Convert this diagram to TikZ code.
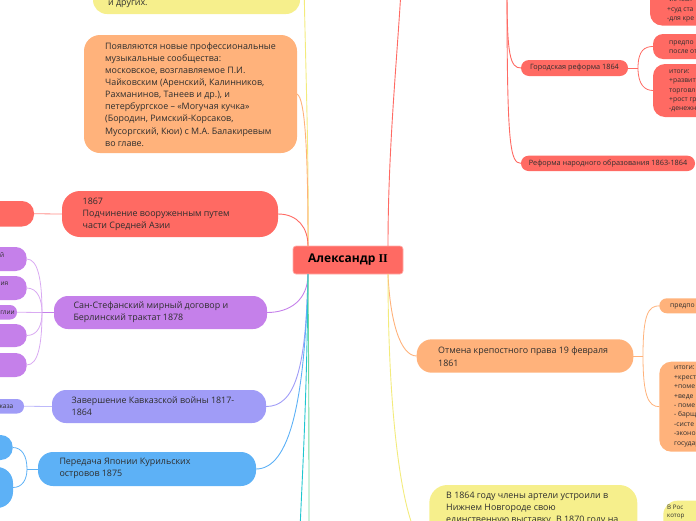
\documentclass[tikz,border=0pt]{standalone}
\usepackage{fontspec}
\setmainfont{Open Sans}
\newfontfamily\romanII{Liberation Serif}
\usetikzlibrary{calc}
\definecolor{cred}{HTML}{FF6A63}
\definecolor{credl}{HTML}{FF8E89}
\definecolor{corange}{HTML}{FFB27B}
\definecolor{cyellow}{HTML}{F6EF8C}
\definecolor{cyline}{HTML}{F3EB7C}
\definecolor{cpurple}{HTML}{C580EA}
\definecolor{cpurplel}{HTML}{D9AAF2}
\definecolor{clav}{HTML}{A09CF7}
\definecolor{clavl}{HTML}{BDB9FA}
\definecolor{cblue}{HTML}{5DB1F6}
\definecolor{ccyan}{HTML}{1EC6CF}
\definecolor{cgreen}{HTML}{6FD79C}
\definecolor{ctext}{HTML}{2E2E2E}
\begin{document}
\begin{tikzpicture}[x=1pt,y=-1pt,
  shp/.style={inner sep=0pt, outer sep=0pt, rounded corners=#1},
  tA/.style={inner sep=0pt, align=left, text=ctext, font=\fontsize{8.9}{12.1}\selectfont},
  tS/.style={inner sep=0pt, align=left, text=ctext, font=\fontsize{6.8}{9.4}\selectfont},
  tX/.style={inner sep=0pt, align=left, text=ctext, font=\fontsize{6.5}{8.5}\selectfont},
  tM/.style={inner sep=0pt, text=ctext, font=\fontsize{7.3}{9}\selectfont},
  ln/.style={line width=0.9pt},
  lnc/.style={line width=0.8pt},
]
\useasboundingbox (0,0) rectangle (696,520);
\clip (0,0) rectangle (696,520);

% ---------- shapes ----------
\node[shp=14, fill=cyellow, minimum width=207, minimum height=64] (ytop) at (196.5,-18) {};
\node[shp=16, fill=corange, minimum width=213, minimum height=118] (music) at (190.5,94) {};
\node[shp=18, fill=cred, minimum width=216, minimum height=46] (r1867) at (170,214) {};
\node[shp=12, fill=cred, minimum width=59, minimum height=25.5] (rl) at (4.5,213.75) {};
\node[shp=14, fill=cpurple, minimum width=213, minimum height=33] (peace) at (160.5,312.5) {};
\node[shp=11, fill=cpurple, minimum width=56.7, minimum height=24] (p1) at (-1.65,259) {};
\node[shp=11, fill=cpurple, minimum width=56.7, minimum height=24] (p2) at (-1.65,288) {};
\node[shp=7, fill=cpurple, minimum width=47, minimum height=14.5] (p3) at (-6.5,312.25) {};
\node[shp=11, fill=cpurple, minimum width=56.7, minimum height=23] (p4) at (-1.65,335.5) {};
\node[shp=11, fill=cpurple, minimum width=56.7, minimum height=24] (p5) at (-1.65,365) {};
\node[shp=14, fill=clav, minimum width=214, minimum height=33] (cauc) at (159,406.5) {};
\node[shp=7, fill=clav, minimum width=54, minimum height=14.5] (cl) at (-3,406.25) {};
\node[shp=15, fill=cblue, minimum width=218, minimum height=34] (kuril) at (147,469) {};
\node[shp=12, fill=cblue, minimum width=42.7, minimum height=25] (b1) at (-8.65,447.5) {};
\node[shp=16, fill=cblue, minimum width=43, minimum height=41] (b2) at (-8.5,487.5) {};

\node[shp=3, fill=cred, draw=cred!55!white, line width=0.7pt, minimum width=110, minimum height=28,
      text=black, font=\fontsize{12}{13}\selectfont\bfseries] (cen) at (348,260) {Александр {\romanII II}};

\node[shp=12, fill=cred, minimum width=80, minimum height=65.5] (gtop) at (690,-7.25) {};
\node[shp=8, fill=cred, minimum width=107, minimum height=16, tM] (gor) at (574.5,68) {Городская реформа 1864};
\node[shp=10, fill=cred, minimum width=77, minimum height=25] (g1) at (691.5,46.5) {};
\node[shp=12, fill=cred, minimum width=77, minimum height=53] (g2) at (691.5,90.5) {};
\node[shp=7.5, fill=cred, minimum width=174, minimum height=15.3, tM] (edu) at (608,163.35) {Реформа народного образования 1863-1864};

\node[shp=15, fill=corange, minimum width=216.6, minimum height=33.4] (serf) at (525,356) {};
\node[shp=7.5, fill=corange, minimum width=70.7, minimum height=15] (s1) at (694.65,305.8) {};
\node[shp=12, fill=corange, minimum width=70.7, minimum height=90] (s2) at (694.65,406.7) {};

\node[shp=18, fill=cyellow, minimum width=208, minimum height=126] (yb) at (533.3,548) {};
\node[shp=14, fill=cyellow, minimum width=66.7, minimum height=59.3] (ybr) at (696.65,530.35) {};

% ---------- texts ----------
\node[tA, anchor=west] (ytopT) at (108,4.3) {и других.};
\node[tA, anchor=west] (musicT) at (105,94.4) {Появляются новые профессиональные\\музыкальные сообщества:\\московское, возглавляемое П.И.\\Чайковским (Аренский, Калинников,\\Рахманинов, Танеев и др.), и\\петербургское – «Могучая кучка»\\(Бородин, Римский-Корсаков,\\Мусоргский, Кюи) с М.А. Балакиревым\\во главе.};
\node[tA, anchor=west] (r1867T) at (82.5,214.7) {1867\\Подчинение вооруженным путем\\части Средней Азии};
\node[tA, anchor=west] (peaceT) at (73.3,312.2) {Сан-Стефанский мирный договор и\\Берлинский трактат 1878};
\node[tA, anchor=west] (caucT) at (71.5,406.3) {Завершение Кавказской войны 1817-\\1864};
\node[tA, anchor=west] (kurilT) at (59.3,468.4) {Передача Японии Курильских\\островов 1875};
\node[tA, anchor=west] (serfT) at (438,356.7) {Отмена крепостного права 19 февраля\\1861};
\node[tA, anchor=west] (ybT) at (446,508.3) {В 1864 году члены артели устроили в\\Нижнем Новгороде свою\\единственную выставку. В 1870 году на};

\node[tX, anchor=east] (p1T) at (4.5,255) {й};
\node[tX, anchor=east] (p2T) at (8.5,284) {ия};
\node[tX, anchor=east] (p3T) at (15,312.5) {глии};
\node[tX, anchor=east] (clT) at (13.5,406.5) {каза};

\node[tS, anchor=west] (gtopT) at (667,10) {-исчезл\\+суд ста\\-для кре};
\node[tS, anchor=west] (g1T) at (669,47.2) {предпо\\после от};
\node[tS, anchor=west] (g2T) at (669,90.8) {итоги:\\+развит\\торговл\\+рост гр\\-денежн};
\node[tS, anchor=west] (s1T) at (670,306.3) {предпо};
\node[tS, anchor=west] (s2T) at (674,406.5) {итоги:\\+крест\\+поме\\+веде\\- поме\\- барщ\\-систе\\-эконо\\государ};
\node[tX, anchor=north west, font=\fontsize{6.2}{8}\selectfont] (ybrT) at (667,504.5) {В Рос\\котор};

% ---------- coordinates ----------
\coordinate (cTL) at ($(cen.north west)+(15,0)$);
\coordinate (cTR) at ($(cen.north east)+(-15,0)$);
\coordinate (cBL) at ($(cen.south west)+(15,0)$);
\coordinate (cBR) at ($(cen.south east)+(-15,0)$);
\coordinate (yTop) at (304,-20);
\coordinate (redTop) at (401,-10);
\coordinate (refTop) at (507,-10);
\coordinate (cyBot) at (300,530);
\coordinate (grBot) at (309,530);
\coordinate (pf) at (42,312.5);
\coordinate (bf) at (27,469);
\coordinate (gf) at (638,68);
\coordinate (sf) at (643,356);

% ---------- connectors from centre ----------
\draw[ln, cyline] (cTL) .. controls (309,150) and (305,50) .. (yTop);
\draw[ln, corange] (music.east) .. controls (305,98) and (308,150) .. (cTL);
\draw[ln, cred] (r1867.east) .. controls (298,214) and (308,228) .. (cTL);
\draw[ln, cred] (cTR) .. controls (388,150) and (397,60) .. (redTop);
\draw[ln, corange] (cBR) .. controls (390,320) and (400,356) .. (serf.west);
\draw[ln, cyline] (cBR) .. controls (388,430) and (405,545) .. (yb.west);
\draw[ln, cpurple] (cBL) .. controls (308,300) and (290,312.5) .. (peace.east);
\draw[ln, clav] (cBL) .. controls (306,370) and (295,406.5) .. (cauc.east);
\draw[ln, cblue] (cBL) .. controls (305,400) and (290,469) .. (kuril.east);
\draw[ln, ccyan] (cBL) .. controls (307,400) and (302,480) .. (cyBot);
\draw[ln, cgreen] (cBL) .. controls (309,400) and (309,480) .. (grBot);

% ---------- reform branch ----------
\draw[ln, cred] (refTop) .. controls (507,55) and (510,68) .. (gor.west);
\draw[ln, cred] (refTop) .. controls (507,145) and (510,163.35) .. (edu.west);
\draw[lnc, cred] (gor.east) -- (gf);
\draw[lnc, cred] (gf) .. controls (638,50) and (645,46.5) .. (g1.west);
\draw[lnc, cred] (gf) .. controls (638,85) and (645,90.5) .. (g2.west);

\draw[lnc, corange] (serf.east) -- (sf);
\draw[lnc, corange] (sf) .. controls (643,315) and (648,305.8) .. (s1.west);
\draw[lnc, corange] (sf) .. controls (643,395) and (648,406.7) .. (s2.west);

% ---------- left children ----------
\draw[lnc, credl] (rl.east) -- (r1867.west);
\draw[lnc, cpurple] (peace.west) -- (pf);
\draw[lnc, cpurplel] (pf) -- (p3.east);
\draw[lnc, cpurplel] (pf) .. controls (42,280) and (38,259) .. (p1.east);
\draw[lnc, cpurplel] (pf) .. controls (42,300) and (38,288) .. (p2.east);
\draw[lnc, cpurplel] (pf) .. controls (42,325) and (38,335.5) .. (p4.east);
\draw[lnc, cpurplel] (pf) .. controls (42,345) and (38,365) .. (p5.east);
\draw[lnc, clavl] (cl.east) -- (cauc.west);
\draw[lnc, cblue] (kuril.west) -- (bf);
\draw[lnc, cblue] (bf) .. controls (27,456) and (22,447.5) .. (b1.east);
\draw[lnc, cblue] (bf) .. controls (27,480) and (22,487.5) .. (b2.east);
\end{tikzpicture}
\end{document}
